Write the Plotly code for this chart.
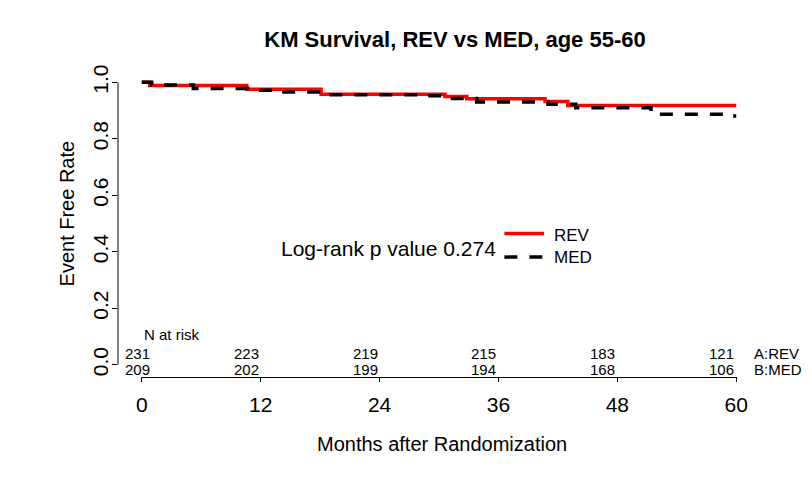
import plotly.graph_objects as go

# ---- data ----
rev_t = [0, 0.8, 10.6, 18.1, 30.6, 32.8, 40.7, 43.0, 60]
rev_s = [1.0, 0.989, 0.975, 0.958, 0.950, 0.942, 0.932, 0.918, 0.918]

med_t = [0, 1.0, 5.2, 10.7, 13.3, 18.3, 28.7, 31.0, 33.8, 41.0, 43.8, 51.4, 59.6, 60]
med_s = [1.0, 0.99, 0.978, 0.972, 0.966, 0.956, 0.952, 0.943, 0.930, 0.922, 0.910, 0.887, 0.881, 0.881]

risk_times = [0, 12, 24, 36, 48, 60]
risk_rev = [231, 223, 219, 215, 183, 121]
risk_med = [209, 202, 199, 194, 168, 106]

x_ticks = [0, 12, 24, 36, 48, 60]
y_ticks = [0.0, 0.2, 0.4, 0.6, 0.8, 1.0]
y_ticklabels = ["0.0", "0.2", "0.4", "0.6", "0.8", "1.0"]

FONT = "Liberation Sans, Arial, sans-serif"

fig = go.Figure()
fig.add_trace(go.Scatter(x=rev_t, y=rev_s, mode="lines", line=dict(color="#ff0000", width=3.5, shape="hv"),
                         name="REV", showlegend=False))
fig.add_trace(go.Scatter(x=med_t, y=med_s, mode="lines",
                         line=dict(color="#000000", width=3.5, shape="hv", dash="13px,12px"),
                         name="MED", showlegend=False))

shapes = [
    # R-style axis lines spanning first to last tick
    dict(type="line", xref="paper", yref="y", x0=0, x1=0, y0=0, y1=1, line=dict(color="black", width=1)),
    dict(type="line", xref="x", yref="paper", x0=0, x1=60, y0=-0.005, y1=-0.005, line=dict(color="black", width=1)),
    # legend samples
    dict(type="line", xref="x", yref="y", x0=36.6, x1=40.6, y0=0.465, y1=0.465, line=dict(color="#ff0000", width=3.5)),
    dict(type="line", xref="x", yref="y", x0=36.6, x1=40.6, y0=0.381, y1=0.381,
         line=dict(color="black", width=3.5, dash="13px,12px")),
]

annotations = [
    dict(text="Log-rank p value 0.274", x=36.0, y=0.412, xref="x", yref="y", xanchor="right", yanchor="middle",
         showarrow=False, font=dict(size=21, family=FONT, color="black")),
    dict(text="REV", x=41.4, y=0.458, xref="x", yref="y", xanchor="left", yanchor="middle",
         showarrow=False, font=dict(size=17, family=FONT, color="black")),
    dict(text="MED", x=41.4, y=0.378, xref="x", yref="y", xanchor="left", yanchor="middle",
         showarrow=False, font=dict(size=17, family=FONT, color="black")),
    dict(text="N at risk", x=0, y=0.107, xref="x", yref="y", xanchor="left", yanchor="middle",
         showarrow=False, font=dict(size=15, family=FONT, color="black")),
    dict(text="A:REV", x=61.6, y=0.039, xref="x", yref="y", xanchor="left", yanchor="middle",
         showarrow=False, font=dict(size=15, family=FONT, color="black")),
    dict(text="B:MED", x=61.6, y=-0.016, xref="x", yref="y", xanchor="left", yanchor="middle",
         showarrow=False, font=dict(size=15, family=FONT, color="black")),
    dict(text="Months after Randomization", x=0.504, y=-0.224, xref="paper", yref="paper",
         xanchor="center", yanchor="middle", showarrow=False, font=dict(size=20, family=FONT, color="black")),
    dict(text="Event Free Rate", x=-0.0794, y=0.533, xref="paper", yref="paper", textangle=-90,
         xanchor="center", yanchor="middle", showarrow=False, font=dict(size=20, family=FONT, color="black")),
]
for t, a, b in zip(risk_times, risk_rev, risk_med):
    xpos = max(t, 1.0)
    annotations.append(dict(text=str(a), x=xpos, y=0.039, xref="x", yref="y", xanchor="right", yanchor="middle",
                            showarrow=False, font=dict(size=15, family=FONT, color="black")))
    annotations.append(dict(text=str(b), x=xpos, y=-0.016, xref="x", yref="y", xanchor="right", yanchor="middle",
                            showarrow=False, font=dict(size=15, family=FONT, color="black")))

fig.update_layout(
    width=804, height=481,
    margin=dict(l=110, r=51.5, t=62.7, b=113.4),
    paper_bgcolor="white", plot_bgcolor="white",
    title=dict(text="<b>KM Survival, REV vs MED, age 55-60</b>", x=447 / 804, xanchor="center",
               y=1 - 31 / 481, yanchor="middle", yref="container",
               font=dict(size=22, family=FONT, color="black")),
    xaxis=dict(range=[-2.4, 62.4], tickvals=x_ticks, ticktext=[str(v) for v in x_ticks],
               showgrid=False, zeroline=False, showline=False, ticks="outside", ticklen=5,
               tickcolor="black", tickwidth=1, ticklabelstandoff=5,
               tickfont=dict(size=21, family=FONT, color="black")),
    yaxis=dict(range=[-0.04, 1.04], tickvals=y_ticks, ticktext=y_ticklabels, tickangle=-90,
               showgrid=False, zeroline=False, showline=False, ticks="outside", ticklen=5,
               tickcolor="black", tickwidth=1, ticklabelstandoff=-4,
               tickfont=dict(size=21, family=FONT, color="black")),
    shapes=shapes, annotations=annotations, showlegend=False,
)

fig.write_html("out.html")
